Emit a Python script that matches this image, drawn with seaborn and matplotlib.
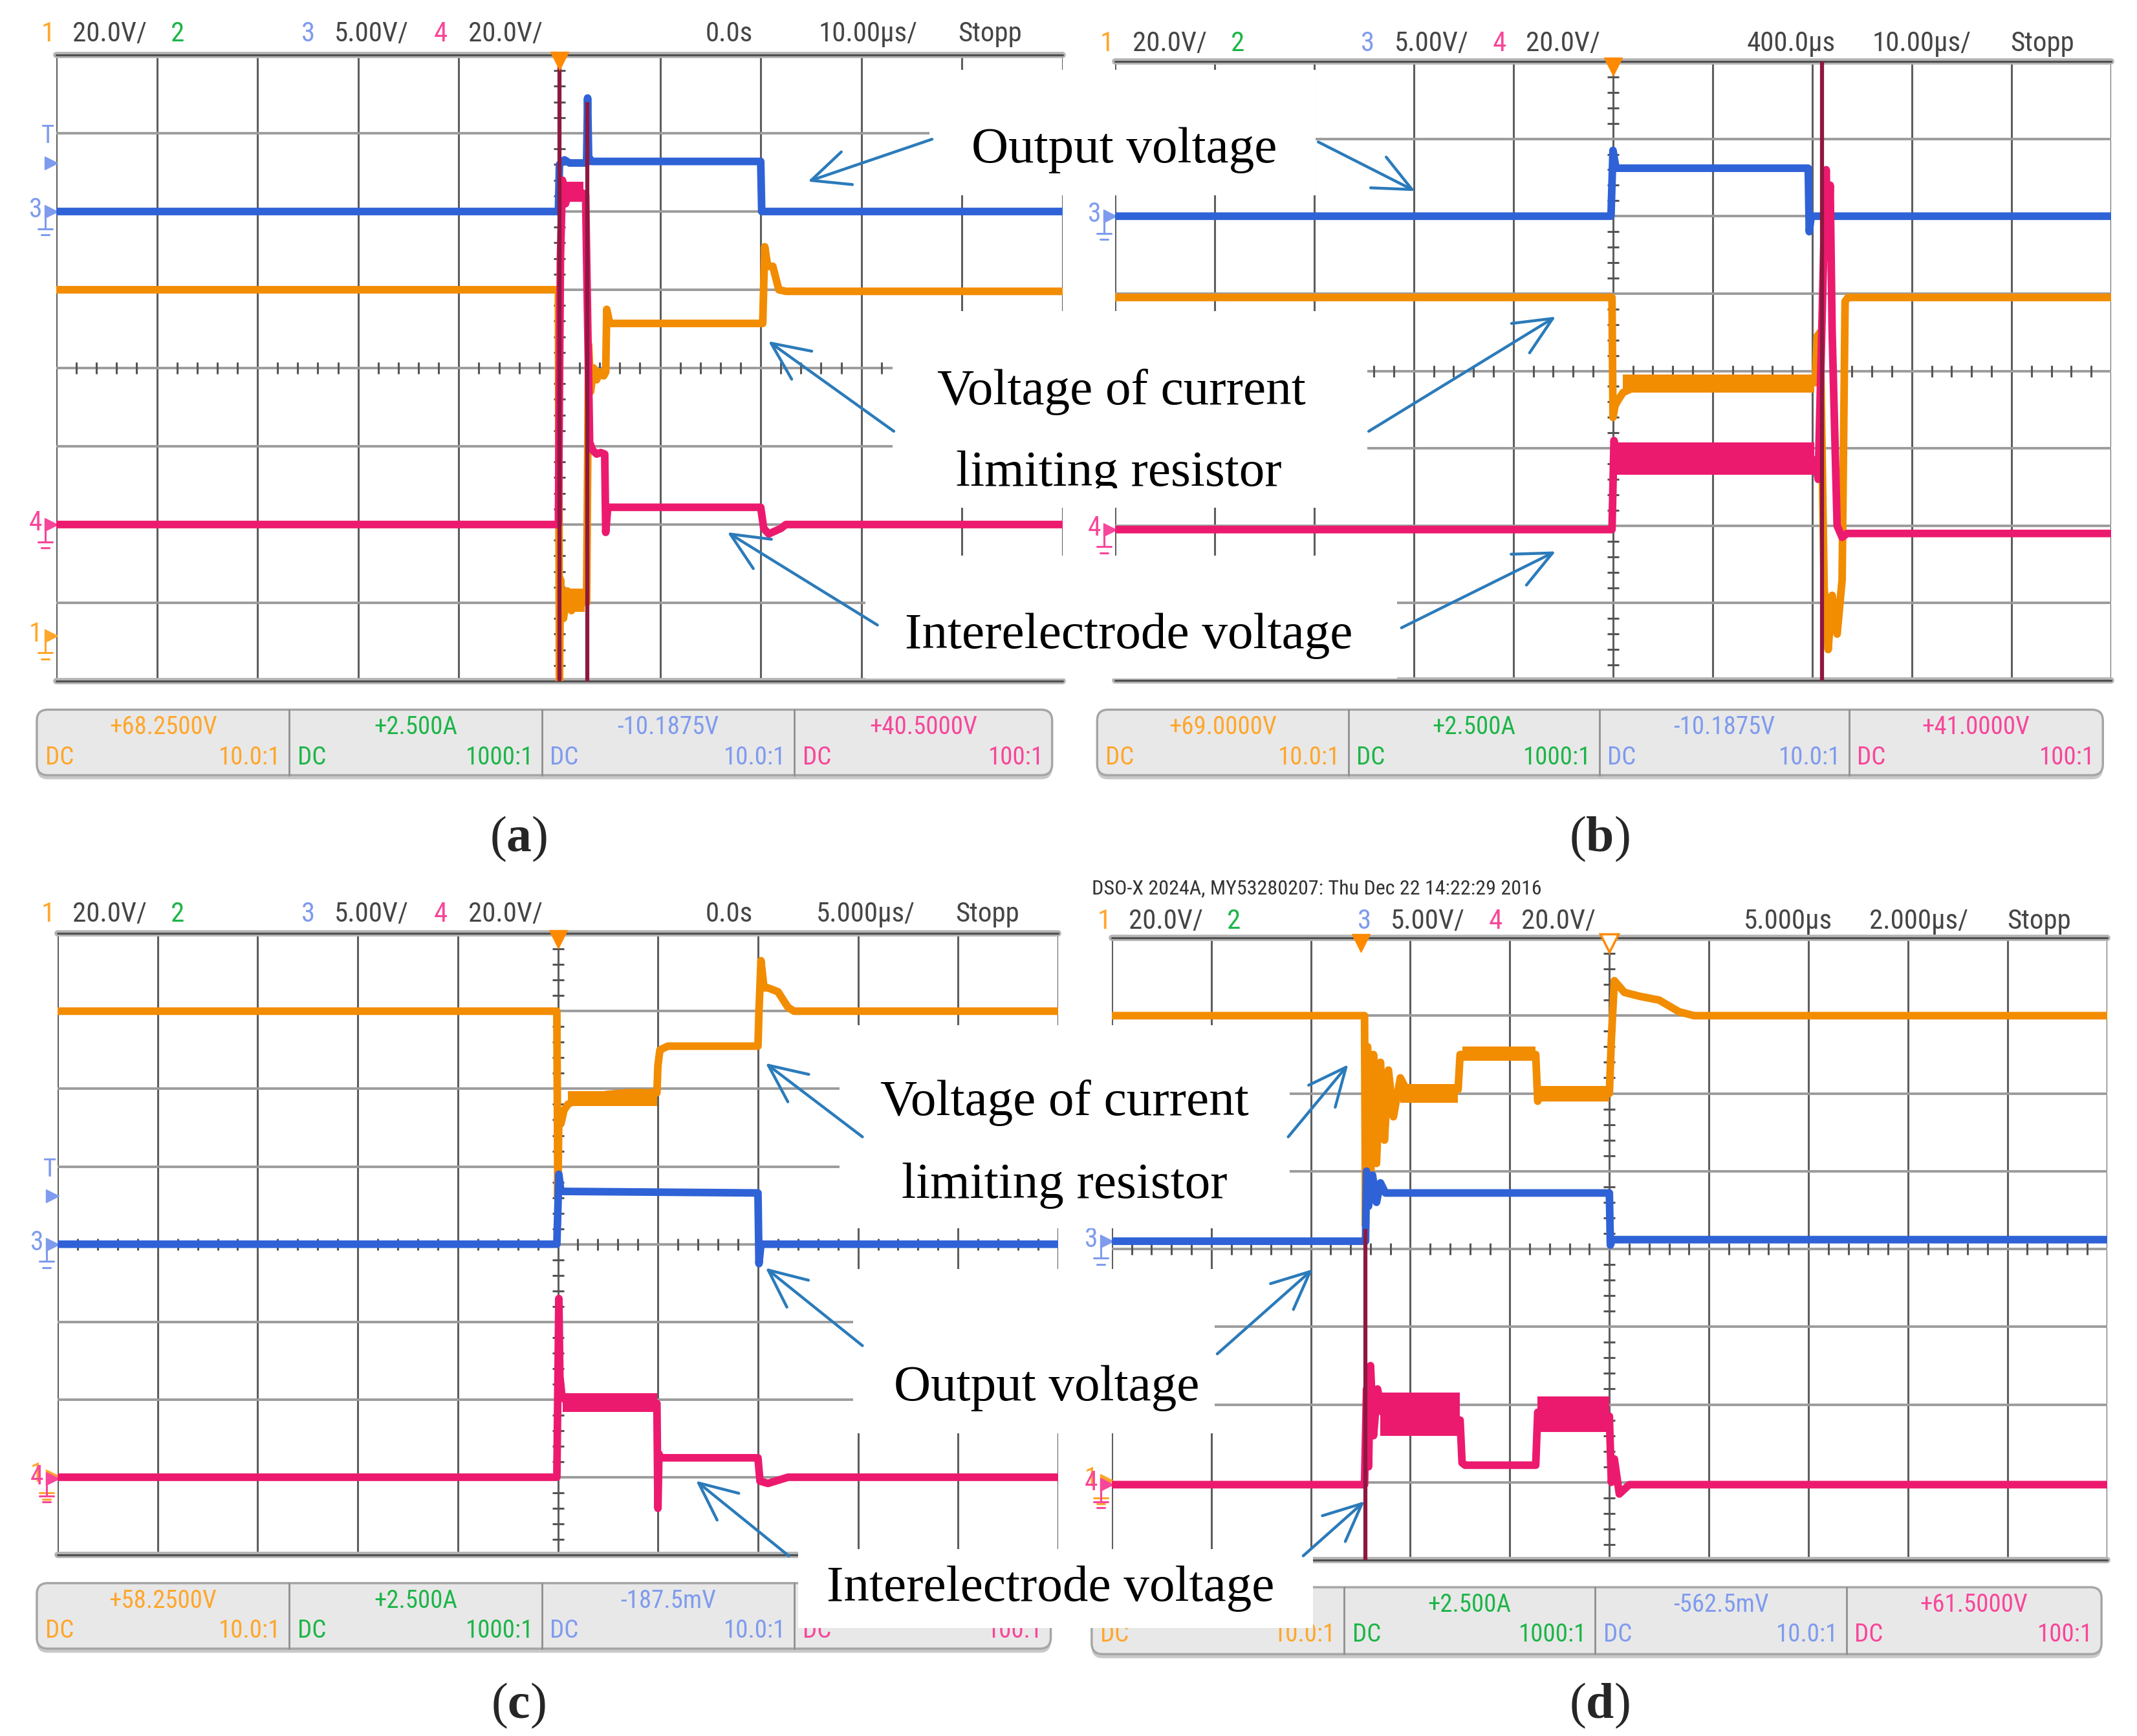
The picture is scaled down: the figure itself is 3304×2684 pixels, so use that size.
import matplotlib.pyplot as plt
import matplotlib.font_manager as fm
from matplotlib.patches import FancyBboxPatch, Rectangle
from matplotlib.transforms import Bbox, TransformedBbox
import seaborn as sns

sns.set_theme(style="white")
plt.rcParams['font.family'] = ['DejaVu Sans']
plt.rcParams['mathtext.fontset'] = 'custom'
plt.rcParams['mathtext.rm'] = 'Liberation Serif'
plt.rcParams['mathtext.bf'] = 'Liberation Serif:bold'

# scope colours
ORANGE = '#F28C00'
BLUE = '#2F62D6'
PINK = '#EC1A6E'
MAROON = '#8E1840'
T_ORANGE = '#FFA62B'
T_GREEN = '#1DB548'
T_BLUE = '#7F9BEE'
T_PINK = '#F8469A'
GRAY_TXT = '#454545'
ARROW = '#2B7BBA'

# ---- panel (a): 10 us/div, time and level in divisions ----
a_orange_t = [0, 4.99, 5.0, 5.01, 5.04, 5.08, 5.12, 5.16, 5.2, 5.25, 5.27, 5.29, 5.31, 5.34, 5.37, 5.4, 5.44,
              5.46, 5.47, 5.5, 7.02, 7.04, 7.07, 7.12, 7.18, 7.25, 10]
a_orange_y = [5.0, 5.0, 0.0, 1.3, 0.8, 1.15, 0.9, 1.1, 0.95, 1.05, 1.0, 4.3, 3.7, 4.0, 3.85, 3.95, 3.9,
              3.95, 4.75, 4.57, 4.57, 5.55, 5.3, 5.3, 5.0, 4.98, 4.98]
a_blue_t = [0, 4.99, 5.0, 5.05, 5.1, 5.27, 5.28, 5.29, 5.32, 7.0, 7.01, 10]
a_blue_y = [6.0, 6.0, 6.6, 6.66, 6.62, 6.62, 7.45, 6.7, 6.64, 6.64, 6.0, 6.0]
a_pink_t = [0, 4.99, 5.01, 5.03, 5.06, 5.1, 5.15, 5.2, 5.26, 5.3, 5.33, 5.37, 5.41, 5.45, 5.46, 5.48,
            7.0, 7.03, 7.08, 7.2, 7.25, 10]
a_pink_y = [2.0, 2.0, 5.4, 6.4, 6.1, 6.3, 6.2, 6.25, 6.22, 3.05, 2.95, 2.9, 2.92, 2.9, 1.9, 2.22,
            2.22, 1.95, 1.88, 1.95, 2.0, 2.0]
a_spikes = [(5.0, 0.0, 8.0), (5.28, 0.0, 7.4)]
a_bands = [(ORANGE, 5.02, 5.25, 0.88, 1.18), (PINK, 5.04, 5.24, 6.12, 6.38)]
a_marks = [('3', 6.0, T_BLUE), ('4', 2.0, T_PINK), ('1', 0.58, T_ORANGE)]

# ---- panel (b): 10 us/div, delay 400 us ----
b_orange_t = [0, 4.99, 5.0, 5.02, 5.05, 5.1, 5.2, 5.4, 5.7, 6.0, 7.03, 7.05, 7.08, 7.12, 7.16, 7.2, 7.25,
              7.3, 7.33, 7.36, 10]
b_orange_y = [4.95, 4.95, 3.4, 3.55, 3.62, 3.72, 3.78, 3.82, 3.83, 3.84, 3.85, 4.45, 4.5, 1.2, 0.4, 1.1, 0.6,
              1.3, 4.9, 4.95, 4.95]
b_blue_t = [0, 4.98, 5.0, 5.03, 6.96, 6.97, 6.99, 10]
b_blue_y = [6.0, 6.0, 6.85, 6.62, 6.62, 5.8, 6.0, 6.0]
b_pink_t = [0, 4.99, 5.01, 5.05, 7.03, 7.06, 7.12, 7.14, 7.16, 7.18, 7.2, 7.25, 7.3, 7.35, 10]
b_pink_y = [1.95, 1.95, 3.1, 2.85, 2.85, 2.6, 5.8, 6.6, 5.5, 6.4, 4.5, 2.0, 1.85, 1.9, 1.9]
b_spikes = [(7.1, 0.0, 8.0)]
b_bands = [(ORANGE, 5.1, 7.02, 3.72, 3.95), (PINK, 5.03, 7.02, 2.66, 3.08)]
b_marks = [('3', 6.0, T_BLUE), ('4', 1.95, T_PINK)]

# ---- panel (c): 5 us/div ----
c_orange_t = [0, 4.99, 5.0, 5.01, 5.03, 5.06, 5.1, 5.2, 5.35, 5.5, 5.7, 5.99, 6.0, 6.02, 6.05, 6.1, 7.0,
              7.01, 7.03, 7.06, 7.1, 7.2, 7.3, 7.36, 10]
c_orange_y = [7.0, 7.0, 4.6, 5.7, 5.55, 5.72, 5.8, 5.87, 5.9, 5.93, 5.95, 5.95, 6.3, 6.5, 6.52, 6.55, 6.55,
              7.0, 7.65, 7.3, 7.3, 7.25, 7.05, 7.0, 7.0]
c_blue_t = [0, 4.99, 5.01, 5.03, 7.0, 7.01, 7.03, 10]
c_blue_y = [4.0, 4.0, 4.9, 4.68, 4.66, 3.75, 4.0, 4.0]
c_pink_t = [0, 4.99, 5.01, 5.02, 5.04, 5.1, 5.99, 6.0, 6.01, 6.03, 7.0, 7.02, 7.1, 7.3, 10]
c_pink_y = [1.0, 1.0, 3.3, 2.3, 2.05, 1.95, 1.95, 0.6, 1.3, 1.25, 1.25, 0.95, 0.92, 1.0, 1.0]
c_spikes = []
c_bands = [(PINK, 5.05, 5.99, 1.84, 2.08), (ORANGE, 5.1, 5.99, 5.78, 5.97)]
c_marks = [('3', 4.0, T_BLUE), ('1', 1.02, T_ORANGE), ('4', 0.98, T_PINK)]

# ---- panel (d): 2 us/div ----
d_orange_t = [0, 2.54, 2.55, 2.57, 2.6, 2.63, 2.66, 2.7, 2.74, 2.78, 2.83, 2.9, 3.0, 3.2, 3.48, 3.5, 3.55,
              4.26, 4.28, 4.3, 5.0, 5.02, 5.05, 5.15, 5.3, 5.5, 5.7, 5.85, 10]
d_orange_y = [7.0, 7.0, 4.3, 6.6, 4.8, 6.5, 5.1, 6.4, 5.4, 6.3, 5.7, 6.2, 5.95, 6.0, 6.05, 6.5, 6.5,
              6.5, 5.9, 6.0, 6.0, 6.7, 7.45, 7.3, 7.25, 7.2, 7.05, 7.0, 7.0]
d_blue_t = [0, 2.55, 2.56, 2.58, 2.62, 2.66, 2.7, 2.75, 5.0, 5.01, 5.03, 10]
d_blue_y = [4.1, 4.1, 5.0, 4.55, 4.95, 4.6, 4.85, 4.72, 4.72, 4.05, 4.12, 4.12]
d_pink_t = [0, 2.54, 2.56, 2.58, 2.6, 2.63, 2.67, 2.72, 3.5, 3.52, 3.55, 4.26, 4.28, 4.3, 5.0, 5.02,
            5.05, 5.1, 5.2, 10]
d_pink_y = [0.97, 0.97, 2.2, 1.2, 2.5, 1.6, 2.2, 1.9, 1.8, 1.25, 1.22, 1.22, 1.9, 1.85, 1.85, 1.0,
            1.3, 0.85, 0.97, 0.97]
d_spikes = [(2.55, 0.0, 4.26)]
d_bands = [(ORANGE, 2.9, 3.48, 5.88, 6.12), (ORANGE, 3.52, 4.26, 6.42, 6.6), (ORANGE, 4.3, 5.0, 5.9, 6.1),
           (PINK, 2.7, 3.5, 1.6, 2.15), (PINK, 4.28, 5.0, 1.65, 2.1)]
d_marks = [('3', 4.1, T_BLUE), ('1', 1.02, T_ORANGE), ('4', 0.97, T_PINK)]

# header rows and status bars
head_a = [('1', T_ORANGE), ('20.0V/', GRAY_TXT), ('2', T_GREEN), ('3', T_BLUE), ('5.00V/', GRAY_TXT),
          ('4', T_PINK), ('20.0V/', GRAY_TXT), ('0.0s', GRAY_TXT), ('10.00µs/', GRAY_TXT), ('Stopp', GRAY_TXT)]
head_b_time = ['400.0µs', '10.00µs/']
head_c_time = ['0.0s', '5.000µs/']
head_d_time = ['5.000µs', '2.000µs/']
bar_a = ['+68.2500V', '+2.500A', '-10.1875V', '+40.5000V']
bar_b = ['+69.0000V', '+2.500A', '-10.1875V', '+41.0000V']
bar_c = ['+58.2500V', '+2.500A', '-187.5mV', '']
bar_d = ['', '+2.500A', '-562.5mV', '+61.5000V']
bar_ratio = ['10.0:1', '1000:1', '10.0:1', '100:1']
bar_colors = [T_ORANGE, T_GREEN, T_BLUE, T_PINK]

W, H = 1566.0, 1272.0
fig = plt.figure(figsize=(33.04, 26.84), dpi=100, facecolor='white')

names = {f.name for f in fm.fontManager.ttflist}
NARROW = next((n for n in ['Liberation Sans Narrow', 'Roboto Condensed', 'Open Sans Condensed'] if n in names), None)
if NARROW:
    scope_font = dict(family=NARROW)
    fs_scale = 1.0
else:
    scope_font = dict(family='DejaVu Sans', stretch='condensed')
    fs_scale = 0.72


def panel(x0, y0, x1, y1, traces, bands, spikes, marks, trig=5.0, hollow=None, tmark=None):
    ax = fig.add_axes([x0 / W, 1 - y1 / H, (x1 - x0) / W, (y1 - y0) / H])
    ax.set_axis_off()
    for i in range(11):
        ax.axvline(i, color='#5e5e5e', lw=2.2, zorder=1)
    for j in range(1, 8):
        ax.axhline(j, color='#9c9c9c', lw=2.8, zorder=1)
    for yb in (8, 0):
        ax.axhline(yb, color='#b4b4b4', lw=7, zorder=1, clip_on=False)
        ax.axhline(yb, color='#505050', lw=2.2, zorder=1, clip_on=False)
    minor = [k / 5 for k in range(1, 50) if k % 5]
    ax.plot(minor, [4] * len(minor), ls='none', marker='|', ms=13, mew=2.2, color='#555555', zorder=1)
    minor_y = [k / 5 for k in range(1, 40) if k % 5]
    ax.plot([5] * len(minor_y), minor_y, ls='none', marker='_', ms=13, mew=2.2, color='#555555', zorder=1)

    for c, t0, t1, lo, hi in bands:
        ax.fill_between([t0, t1], [lo, lo], [hi, hi], color=c, lw=0, zorder=3)
    for t, y, c in traces:
        sns.lineplot(x=t, y=y, ax=ax, color=c, linewidth=8.5, sort=False, estimator=None, legend=False, zorder=4)
    for t, lo, hi in spikes:
        ax.plot([t, t], [lo, hi], color=MAROON, lw=4.5, zorder=5, solid_capstyle='butt')

    ax.plot([trig], [7.93], marker='v', ms=20, color='#FF8A00', clip_on=False, zorder=6)
    if hollow is not None:
        ax.plot([hollow], [7.93], marker='v', ms=20, mfc='white', mec='#FF8A00', mew=2.5, clip_on=False, zorder=6)
    tr = ax.get_yaxis_transform()
    for ch, lvl, c in marks:
        ax.plot([-0.005], [lvl], marker='>', ms=15, color=c, transform=tr, clip_on=False)
        ax.text(-0.014, lvl + 0.02, ch, color=c, fontsize=30 * fs_scale, ha='right', va='center', transform=tr,
                clip_on=False, **scope_font)
        ax.plot([-0.011, -0.011], [lvl - 0.05, lvl - 0.22], color=c, lw=2.2, transform=tr, clip_on=False)
        ax.plot([-0.018, -0.004], [lvl - 0.22, lvl - 0.22], color=c, lw=2.2, transform=tr, clip_on=False)
        ax.plot([-0.015, -0.007], [lvl - 0.3, lvl - 0.3], color=c, lw=2.2, transform=tr, clip_on=False)
    if tmark is not None:
        ax.text(-0.008, tmark + 0.34, 'T', color=T_BLUE, fontsize=28 * fs_scale, ha='center', va='center',
                transform=tr, clip_on=False, **scope_font)
        ax.plot([-0.005], [tmark], marker='>', ms=14, color=T_BLUE, transform=tr, clip_on=False)
    ax.set_xlim(0, 10)
    ax.set_ylim(0, 8)
    return ax


panel(41.2, 40.3, 778.7, 499.0,
      [(a_orange_t, a_orange_y, ORANGE), (a_blue_t, a_blue_y, BLUE), (a_pink_t, a_pink_y, PINK)],
      a_bands, a_spikes, a_marks, tmark=6.62)
panel(817.0, 45.0, 1547.0, 498.6,
      [(b_orange_t, b_orange_y, ORANGE), (b_blue_t, b_blue_y, BLUE), (b_pink_t, b_pink_y, PINK)],
      b_bands, b_spikes, b_marks)
panel(42.2, 684.0, 775.4, 1139.3,
      [(c_orange_t, c_orange_y, ORANGE), (c_blue_t, c_blue_y, BLUE), (c_pink_t, c_pink_y, PINK)],
      c_bands, c_spikes, c_marks, tmark=4.62)
panel(814.7, 687.2, 1544.0, 1143.1,
      [(d_orange_t, d_orange_y, ORANGE), (d_blue_t, d_blue_y, BLUE), (d_pink_t, d_pink_y, PINK)],
      d_bands, d_spikes, d_marks, trig=2.5, hollow=5.0)

# overlay in picture pixel units for texts, bars and call-outs
ov = fig.add_axes([0, 0, 1, 1])
ov.set_xlim(0, W)
ov.set_ylim(H, 0)
ov.set_axis_off()
ov.set_zorder(10)


def header(xs, y, items):
    for x, (s, c) in zip(xs, items):
        ov.text(x, y, s, color=c, fontsize=31 * fs_scale, ha='left', va='center', **scope_font)


xs_top = [30, 53, 125, 221, 245, 318, 343, 517, 600, 702]
header(xs_top, 25, head_a)
items_b = head_a[:7] + [(head_b_time[0], GRAY_TXT), (head_b_time[1], GRAY_TXT), ('Stopp', GRAY_TXT)]
header([806, 830, 902, 997, 1022, 1094, 1118, 1280, 1372, 1473], 32, items_b)
items_c = head_a[:7] + [(head_c_time[0], GRAY_TXT), (head_c_time[1], GRAY_TXT), ('Stopp', GRAY_TXT)]
header([30, 53, 125, 221, 245, 318, 343, 517, 598, 700], 670, items_c)
items_d = head_a[:7] + [(head_d_time[0], GRAY_TXT), (head_d_time[1], GRAY_TXT), ('Stopp', GRAY_TXT)]
header([804, 827, 899, 995, 1019, 1091, 1115, 1278, 1370, 1471], 675, items_d)
ov.text(800, 651, 'DSO-X 2024A, MY53280207: Thu Dec 22 14:22:29 2016', color='#333333',
        fontsize=23 * fs_scale, ha='left', va='center', **scope_font)


def status_bar(x0, x1, y0, y1, divs, values):
    ov.add_patch(FancyBboxPatch((x0, y0 + 3), x1 - x0, y1 - y0, boxstyle='round,pad=0,rounding_size=8',
                                fc='#c9c9c9', ec='none', zorder=2))
    ov.add_patch(FancyBboxPatch((x0, y0), x1 - x0, y1 - y0, boxstyle='round,pad=0,rounding_size=8',
                                fc='#e8e8e8', ec='#a6a6a6', lw=2.5, zorder=2))
    edges = [x0] + divs + [x1]
    for d in divs:
        ov.plot([d, d], [y0, y1], color='#8f8f8f', lw=2, zorder=3)
    for k in range(4):
        cx = (edges[k] + edges[k + 1]) / 2
        ov.text(cx, y0 + 13, values[k], color=bar_colors[k], fontsize=28 * fs_scale, ha='center',
                va='center', zorder=3, **scope_font)
        ov.text(edges[k] + 6, y0 + 35, 'DC', color=bar_colors[k], fontsize=28 * fs_scale, ha='left',
                va='center', zorder=3, **scope_font)
        ov.text(edges[k + 1] - 6, y0 + 35, bar_ratio[k], color=bar_colors[k], fontsize=28 * fs_scale,
                ha='right', va='center', zorder=3, **scope_font)


status_bar(27, 771, 520, 568, [212, 397, 582], bar_a)
status_bar(804, 1541, 520, 568, [988, 1172, 1355], bar_b)
status_bar(27, 770, 1160, 1208, [212, 397, 582], bar_c)
status_bar(800, 1540, 1163, 1212, [985, 1169, 1353], bar_d)

# white text boxes that cover the screens
boxes = [(681, 51, 964, 143), (654, 228, 1002, 372), (634, 407, 1024, 497),
         (615, 751, 945, 900), (625, 930, 890, 1050), (585, 1135, 962, 1193)]
for bx0, by0, bx1, by1 in boxes:
    ov.add_patch(Rectangle((bx0, by0), bx1 - bx0, by1 - by0, fc='white', ec='none', zorder=5))

notes = [('Output voltage', 824, 110), ('Voltage of current', 822, 287), ('limiting resistor', 820, 347),
         ('Interelectrode voltage', 827, 466), ('Voltage of current', 780, 808), ('limiting resistor', 780, 869),
         ('Output voltage', 767, 1017), ('Interelectrode voltage', 770, 1164)]
for k, (s, x, y) in enumerate(notes):
    t = ov.text(x, y, s, fontsize=57, family='Liberation Serif', color='black', ha='center', va='center',
                zorder=6)
    if k == 2:
        t.set_clip_box(TransformedBbox(Bbox([[654, 228], [1002, 358]]), ov.transData))
        t.set_clip_on(True)

arrows = [((683, 102), (592, 133)), ((966, 104), (1037, 140)), ((655, 316), (563, 250)),
          ((1003, 316), (1140, 232)), ((643, 458), (533, 390)), ((1027, 460), (1140, 404)),
          ((632, 833), (561, 779)), ((944, 833), (988, 780)), ((632, 986), (561, 929)),
          ((892, 992), (962, 930)), ((578, 1140), (510, 1085)), ((955, 1140), (1000, 1100))]
for tail, head in arrows:
    ov.annotate('', xy=head, xytext=tail, zorder=7,
                arrowprops=dict(arrowstyle='->,head_length=0.7,head_width=0.32', mutation_scale=60,
                                color=ARROW, lw=3.2, shrinkA=0, shrinkB=0))

for s, x, y in [('a', 380, 615), ('b', 1172, 615), ('c', 380, 1250), ('d', 1172, 1250)]:
    ov.text(x, y, '($\\mathbf{%s}$)' % s, fontsize=56, family='Liberation Serif', ha='center', va='center')

fig.savefig('out.png', dpi=100, facecolor='white')
